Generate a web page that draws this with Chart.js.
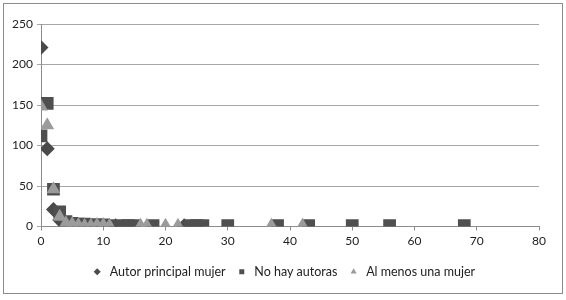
<!DOCTYPE html>
<html>
<head>
<meta charset="utf-8">
<script src="https://cdn.jsdelivr.net/npm/chart.js@4/dist/chart.umd.min.js"></script>
<style>
  html, body { margin: 0; padding: 0; background: #fff; }
  #wrap { width: 566px; height: 300px; }
</style>
</head>
<body>
<div id="wrap"><canvas id="chart"></canvas></div>
<script>
// series names
const seriesNames = ['Autor principal mujer', 'No hay autoras', 'Al menos una mujer'];

// Autor principal mujer
const mujerX = [0, 1, 2, 3, 4, 5, 6, 7, 8, 9, 10, 11, 12, 23];
const mujerY = [221, 96, 21, 8, 3, 2, 2, 1, 1, 1, 1, 1, 1, 1];

// No hay autoras
const noAutorasX = [0, 1, 2, 3, 4, 5, 6, 7, 8, 9, 10, 11, 13, 14, 15, 18, 24, 25, 26, 30, 38, 43, 50, 56, 68];
const noAutorasY = [112, 152, 46, 18, 6, 4, 3, 3, 2, 2, 2, 1, 1, 1, 1, 1, 1, 1, 1, 1, 1, 1, 1, 1, 1];

// Al menos una mujer
const unaMujerX = [0, 1, 2, 3, 4, 5, 6, 7, 8, 9, 10, 11, 16, 17, 20, 22, 37, 42];
const unaMujerY = [148, 125, 46, 12, 4, 3, 2, 1, 1, 2, 2, 1, 1, 1, 1, 1, 1, 1];

// axis ticks
const xTicks = [0, 10, 20, 30, 40, 50, 60, 70, 80];
const yTicks = [0, 50, 100, 150, 200, 250];

const toPoints = (xs, ys) => xs.map((x, i) => ({ x: x, y: ys[i] }));

// outer frame like the spreadsheet chart area
const framePlugin = {
    id: 'frame',
    beforeDraw(chart) {
        const ctx = chart.ctx;
        ctx.save();
        ctx.fillStyle = '#fff';
        ctx.fillRect(0, 0, chart.width, chart.height);
        ctx.restore();
    },
    afterDraw(chart) {
        const ctx = chart.ctx;
        ctx.save();
        ctx.strokeStyle = '#8c8c8c';
        ctx.lineWidth = 1;
        ctx.strokeRect(3.5, 3.5, 559, 290);
        ctx.restore();
    }
};

const ctx = document.getElementById('chart').getContext('2d');
const chart = new Chart(ctx, {
    type: 'scatter',
    data: {
        datasets: [
            {
                label: seriesNames[0],
                data: toPoints(mujerX, mujerY),
                pointStyle: 'rectRot',
                pointRadius: 7.5,
                backgroundColor: '#4a4a4a',
                borderColor: '#4a4a4a',
                borderWidth: 0,
                order: 3
            },
            {
                label: seriesNames[1],
                data: toPoints(noAutorasX, noAutorasY),
                pointStyle: 'rect',
                pointRadius: 9,
                backgroundColor: '#4f4f4f',
                borderColor: '#4f4f4f',
                borderWidth: 0,
                order: 2
            },
            {
                label: seriesNames[2],
                data: toPoints(unaMujerX, unaMujerY),
                pointStyle: 'triangle',
                pointRadius: 8,
                backgroundColor: '#9b9b9b',
                borderColor: '#9b9b9b',
                borderWidth: 0,
                order: 1
            }
        ]
    },
    options: {
        responsive: true,
        maintainAspectRatio: false,
        animation: false,
        layout: {
            padding: { left: 0, right: 0, top: 24, bottom: 12 }
        },
        plugins: {
            tooltip: { enabled: false },
            legend: {
                position: 'bottom',
                labels: {
                    usePointStyle: true,
                    boxHeight: 5,
                    padding: 10,
                    color: '#222',
                    font: { family: 'Lato', size: 12.5 },
                    sort: (a, b) => a.datasetIndex - b.datasetIndex
                }
            }
        },
        scales: {
            x: {
                type: 'linear',
                min: 0,
                max: 80,
                afterBuildTicks: (scale) => { scale.ticks = xTicks.map(v => ({ value: v })); },
                afterFit: (scale) => {
                    scale.height = 29;
                    scale.paddingRight = 27;
                },
                ticks: {
                    color: '#222',
                    padding: 3,
                    font: { family: 'Lato', size: 12 }
                },
                grid: {
                    drawOnChartArea: false,
                    drawTicks: true,
                    tickLength: 4,
                    color: '#8c8c8c'
                },
                border: { color: '#8c8c8c' }
            },
            y: {
                min: 0,
                max: 250,
                afterBuildTicks: (scale) => { scale.ticks = yTicks.map(v => ({ value: v })); },
                afterFit: (scale) => { scale.width = 41; },
                ticks: {
                    color: '#222',
                    padding: 4,
                    font: { family: 'Lato', size: 12 }
                },
                grid: {
                    color: '#a6a6a6',
                    tickLength: 4
                },
                border: { color: '#8c8c8c' }
            }
        }
    },
    plugins: [framePlugin]
});
</script>
</body>
</html>
